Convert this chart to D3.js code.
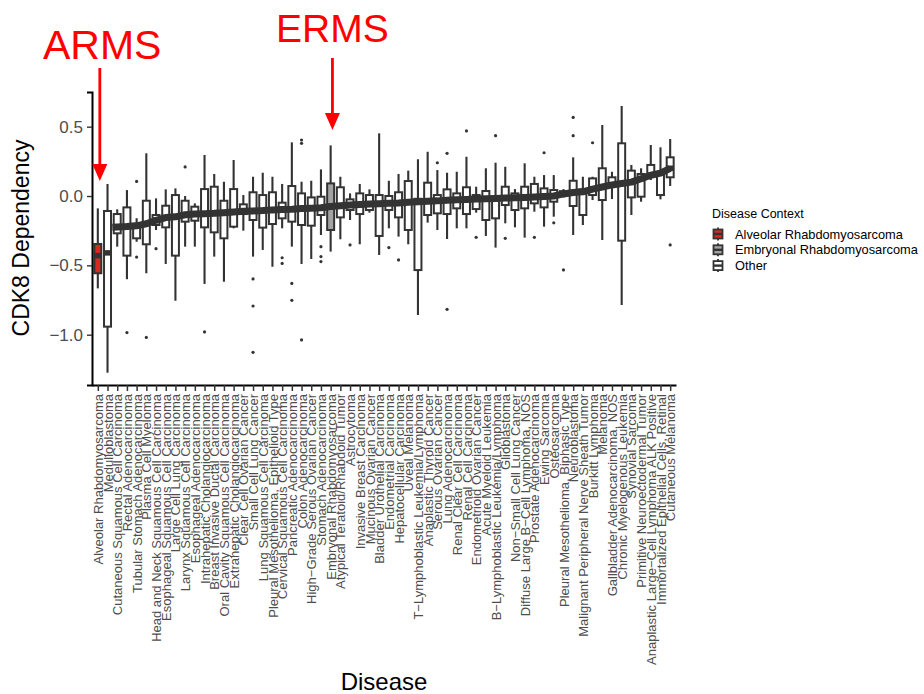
<!DOCTYPE html>
<html>
<head>
<meta charset="utf-8">
<script src="https://cdn.jsdelivr.net/npm/d3@7"></script>
<style>
  body { margin: 0; background: #fff; }
  text { font-family: "Liberation Sans", Arial, sans-serif; }
</style>
</head>
<body>
<svg id="chart" width="924" height="694"></svg>
<script>
// disease categories, in plotting order
const diseases = [
  'Alveolar Rhabdomyosarcoma', 'Medulloblastoma', 'Cutaneous Squamous Cell Carcinoma', 'Rectal Adenocarcinoma',
  'Tubular Stomach Adenocarcinoma', 'Plasma Cell Myeloma', 'Head and Neck Squamous Cell Carcinoma',
  'Esophageal Squamous Cell Carcinoma', 'Large Cell Lung Carcinoma', 'Larynx Squamous Cell Carcinoma',
  'Esophageal Adenocarcinoma', 'Intrahepatic Cholangiocarcinoma', 'Breast Invasive Ductal Carcinoma',
  'Oral Cavity Squamous Cell Carcinoma', 'Extrahepatic Cholangiocarcinoma', 'Clear Cell Ovarian Cancer',
  'Small Cell Lung Cancer', 'Lung Squamous Cell Carcinoma', 'Pleural Mesothelioma, Epithelioid Type',
  'Cervical Squamous Cell Carcinoma', 'Pancreatic Adenocarcinoma', 'Colon Adenocarcinoma',
  'High\u2212Grade Serous Ovarian Cancer', 'Stomach Adenocarcinoma', 'Embryonal Rhabdomyosarcoma',
  'Atypical Teratoid/Rhabdoid Tumor', 'Astrocytoma', 'Invasive Breast Carcinoma', 'Mucinous Ovarian Cancer',
  'Bladder Urothelial Carcinoma', 'Endometrial Carcinoma', 'Hepatocellular Carcinoma', 'Uveal Melanoma',
  'T\u2212Lymphoblastic Leukemia/Lymphoma', 'Anaplastic Thyroid Cancer', 'Serous Ovarian Cancer',
  'Lung Adenocarcinoma', 'Renal Clear Cell Carcinoma', 'Renal Cell Carcinoma', 'Endometrioid Ovarian Cancer',
  'Acute Myeloid Leukemia', 'B\u2212Lymphoblastic Leukemia/Lymphoma', 'Glioblastoma',
  'Non\u2212Small Cell Lung Cancer', 'Diffuse Large B\u2212Cell Lymphoma, NOS', 'Prostate Adenocarcinoma',
  'Ewing Sarcoma', 'Osteosarcoma', 'Pleural Mesothelioma, Biphasic Type', 'Neuroblastoma',
  'Malignant Peripheral Nerve Sheath Tumor', 'Burkitt Lymphoma', 'Melanoma', 'Gallbladder Adenocarcinoma, NOS',
  'Chronic Myelogenous Leukemia', 'Synovial Sarcoma', 'Primitive Neuroectodermal Tumor',
  'Anaplastic Large\u2212Cell Lymphoma ALK Positive', 'Immortalized Epithelial Cells, Retinal', 'Cutaneous Melanoma'
];

// box statistics per disease (CDK8 dependency)
const whiskerLow = [-0.666, -1.274, -0.365, -0.60, -0.33, -0.557, -0.245, -0.49, -0.755, -0.365,
  -0.365, -0.634, -0.437, -0.618, -0.233, -0.25, -0.437, -0.389, -0.51, -0.233,
  -0.365, -0.49, -0.454, -0.281, -0.401, -0.312, -0.173, -0.348, -0.12, -0.425,
  -0.233, -0.293, -0.348, -0.858, -0.192, -0.245, -0.31, -0.233, -0.233, -0.12,
  -0.288, -0.372, -0.197, -0.226, -0.3, -0.113, -0.221, -0.149, -0.01, -0.281,
  -0.209, -0.029, -0.317, -0.022, -0.786, -0.137, -0.041, 0.115, -0.024, 0.072];
const lowerQuartile = [-0.557, -0.942, -0.269, -0.43, -0.305, -0.348, -0.209, -0.226, -0.43, -0.185,
  -0.178, -0.226, -0.262, -0.305, -0.221, -0.13, -0.173, -0.228, -0.202, -0.161,
  -0.185, -0.209, -0.214, -0.137, -0.245, -0.154, -0.101, -0.13, -0.101, -0.288,
  -0.101, -0.154, -0.245, -0.534, -0.137, -0.125, -0.13, -0.089, -0.13, -0.094,
  -0.173, -0.161, -0.065, -0.101, -0.089, -0.053, -0.082, -0.041, 0.005, -0.072,
  -0.137, 0.007, -0.029, 0.087, -0.322, -0.01, -0.005, 0.144, 0.007, 0.135];
const medians = [-0.43, -0.41, -0.225, -0.22, -0.215, -0.2, -0.175, -0.155, -0.15, -0.135,
  -0.13, -0.128, -0.125, -0.12, -0.115, -0.11, -0.108, -0.105, -0.1, -0.098,
  -0.095, -0.09, -0.088, -0.085, -0.075, -0.07, -0.065, -0.062, -0.058, -0.055,
  -0.052, -0.05, -0.045, -0.042, -0.038, -0.035, -0.03, -0.027, -0.025, -0.022,
  -0.02, -0.018, -0.015, -0.012, -0.01, -0.007, -0.004, 0.0, 0.015, 0.025,
  0.03, 0.05, 0.065, 0.08, 0.09, 0.1, 0.125, 0.15, 0.165, 0.2];
const upperQuartile = [-0.346, -0.108, -0.13, -0.082, -0.2, -0.034, -0.137, -0.07, 0.007, -0.034,
  -0.077, 0.05, 0.067, -0.034, 0.05, -0.06, 0.027, 0.007, 0.027, -0.048,
  0.072, 0.019, -0.01, -0.005, 0.091, 0.063, -0.024, 0.019, 0.007, 0.007,
  0.0, 0.027, 0.108, -0.02, 0.096, 0.007, 0.048, 0.019, 0.063, 0.007,
  0.036, -0.005, 0.067, 0.019, 0.067, 0.087, 0.055, 0.043, 0.035, 0.11,
  0.048, 0.127, 0.2, 0.135, 0.38, 0.183, 0.159, 0.224, 0.17, 0.279];
const whiskerHigh = [-0.089, 0.087, -0.096, 0.043, -0.16, 0.308, -0.017, 0.048, 0.055, 0.0,
  -0.053, 0.296, 0.159, 0.103, 0.26, 0.007, 0.139, 0.168, 0.139, 0.087,
  0.387, 0.103, 0.11, 0.192, 0.365, 0.139, 0.019, 0.087, 0.048, 0.452,
  0.11, 0.159, 0.183, 0.265, 0.319, 0.187, 0.168, 0.175, 0.283, 0.067,
  0.2, 0.24, 0.211, 0.05, 0.236, 0.139, 0.151, 0.151, 0.05, 0.279,
  0.139, 0.139, 0.512, 0.175, 0.649, 0.224, 0.2, 0.368, 0.351, 0.411];

// outlying cell lines: disease index and value
const outlierIndex = [3, 4, 4, 5, 6, 9, 11, 16, 16, 16, 19, 19, 20, 20, 21, 21, 21, 23, 23, 23,
  26, 30, 31, 35, 36, 36, 38, 39, 41, 42, 45, 46, 47, 48, 49, 49, 51, 59];
const outlierValue = [-0.985, 0.105, -0.44, -1.02, -0.38, 0.21, -0.98, -0.598, -0.793, -1.127,
  -0.445, -0.486, -0.63, -0.752, 0.404, 0.38, -1.038, -0.365, -0.437, -0.473,
  -0.353, -0.372, -0.461, 0.24, 0.308, -0.817, 0.469, -0.298, 0.435, -0.305,
  -0.298, 0.312, -0.193, -0.533, 0.567, 0.435, 0.384, -0.353];

const contexts = ['Alveolar Rhabdomyosarcoma', 'Embryonal Rhabdomyosarcoma', 'Other'];
const contextColors = ['#d42a20', '#a3a3a3', '#ffffff'];
const yTicks = [-1.0, -0.5, 0.0, 0.5];

const ink = '#333333';
const svg = d3.select('#chart');

/** scales */
const x = d3.scalePoint().domain(diseases).range([92, 676]).padding(0.6);
const y = d3.scaleLinear().domain([-1.3627, 0.75]).range([385, 92]);
const fill = d3.scaleOrdinal(contexts, contextColors);
const contextOf = name => contexts.includes(name) ? name : 'Other';
const boxW = x.step() * 0.72;

const rows = diseases.map((d, i) => ({
  name: d,
  lo: whiskerLow[i], q1: lowerQuartile[i], med: medians[i], q3: upperQuartile[i], hi: whiskerHigh[i]
}));

/** whiskers */
const plot = svg.append('g');
plot.selectAll('line.whi')
  .data(rows)
  .enter().append('line')
  .attr('class', 'whi')
  .attr('x1', d => x(d.name)).attr('x2', d => x(d.name))
  .attr('y1', d => y(d.hi)).attr('y2', d => y(d.q3))
  .attr('stroke', ink).attr('stroke-width', 2.1);
plot.selectAll('line.wlo')
  .data(rows)
  .enter().append('line')
  .attr('class', 'wlo')
  .attr('x1', d => x(d.name)).attr('x2', d => x(d.name))
  .attr('y1', d => y(d.q1)).attr('y2', d => y(d.lo))
  .attr('stroke', ink).attr('stroke-width', 2.1);

/** boxes */
plot.selectAll('rect.box')
  .data(rows)
  .enter().append('rect')
  .attr('class', 'box')
  .attr('x', d => x(d.name) - boxW / 2)
  .attr('width', boxW)
  .attr('y', d => y(d.q3))
  .attr('height', d => Math.max(1, y(d.q1) - y(d.q3)))
  .attr('fill', d => fill(contextOf(d.name)))
  .attr('stroke', ink)
  .attr('stroke-width', 2);

/** median bars */
plot.selectAll('line.med')
  .data(rows)
  .enter().append('line')
  .attr('class', 'med')
  .attr('x1', d => x(d.name) - boxW / 2).attr('x2', d => x(d.name) + boxW / 2)
  .attr('y1', d => y(d.med)).attr('y2', d => y(d.med))
  .attr('stroke', ink).attr('stroke-width', 5.5);

/** thick band joining the medians of the ranked diseases */
const band = rows.slice(2);
plot.append('path')
  .datum(band)
  .attr('fill', 'none')
  .attr('stroke', ink)
  .attr('stroke-width', 7)
  .attr('stroke-linejoin', 'round')
  .attr('d', d3.line()
    .x((d, i) => i === 0 ? x(d.name) - x.step() / 2 : x(d.name))
    .y(d => y(d.med)));

/** outliers */
plot.selectAll('circle.out')
  .data(outlierIndex.map((k, i) => ({name: diseases[k], v: outlierValue[i]})))
  .enter().append('circle')
  .attr('class', 'out')
  .attr('cx', d => x(d.name))
  .attr('cy', d => y(d.v))
  .attr('r', 1.6)
  .attr('fill', ink);

/** axes */
const yAxis = svg.append('g').attr('transform', 'translate(92,0)')
  .call(d3.axisLeft(y).tickValues(yTicks).tickFormat(d3.format('.1f')).tickSize(5).tickPadding(4));
yAxis.select('.domain').attr('stroke', '#000').attr('stroke-width', 2);
yAxis.selectAll('.tick line').attr('stroke', ink).attr('stroke-width', 1.4);
yAxis.selectAll('.tick text').attr('fill', '#4d4d4d').attr('font-size', 17)
  .attr('font-family', '"Liberation Sans", Arial, sans-serif');

const xAxis = svg.append('g').attr('transform', 'translate(0,385)')
  .call(d3.axisBottom(x).tickSize(6).tickSizeOuter(0));
xAxis.select('.domain').attr('stroke', '#000').attr('stroke-width', 2);
xAxis.selectAll('.tick line').attr('stroke', ink).attr('stroke-width', 1.5);
xAxis.selectAll('.tick text')
  .attr('fill', '#4d4d4d')
  .attr('font-size', 13)
  .attr('font-family', '"Liberation Sans", Arial, sans-serif')
  .attr('text-anchor', 'end')
  .attr('transform', 'rotate(-90)')
  .attr('x', -9)
  .attr('y', 0)
  .attr('dy', '0.35em');

svg.append('text')
  .attr('x', 384).attr('y', 690)
  .attr('text-anchor', 'middle')
  .attr('font-size', 24)
  .text('Disease');

svg.append('text')
  .attr('transform', 'translate(29,238) rotate(-90)')
  .attr('text-anchor', 'middle')
  .attr('font-size', 23)
  .text('CDK8 Dependency');

/** legend */
const legend = svg.append('g').attr('transform', 'translate(712,0)');
legend.append('text')
  .attr('x', 0).attr('y', 218)
  .attr('font-size', 12.5)
  .text('Disease Context');
const keys = legend.selectAll('g.key')
  .data(contexts)
  .enter().append('g')
  .attr('class', 'key')
  .attr('transform', (d, i) => `translate(0,${234 + i * 15.8})`);
keys.append('line')
  .attr('x1', 6).attr('x2', 6).attr('y1', -6.5).attr('y2', 6.5)
  .attr('stroke', ink).attr('stroke-width', 1.8);
keys.append('rect')
  .attr('x', 1.5).attr('y', -4.5).attr('width', 9).attr('height', 9)
  .attr('fill', d => fill(d))
  .attr('stroke', ink).attr('stroke-width', 1.8);
keys.append('line')
  .attr('x1', 1.5).attr('x2', 10.5).attr('y1', 0).attr('y2', 0)
  .attr('stroke', ink).attr('stroke-width', 2.4);
keys.append('text')
  .attr('x', 23).attr('y', 4.5)
  .attr('font-size', 12.8)
  .text(d => d);

/** annotations */
const note = svg.append('g');
const arrow = (cx, top, headTop, tip) => {
  note.append('rect')
    .attr('x', cx - 1.4).attr('y', top).attr('width', 2.8).attr('height', headTop - top + 1)
    .attr('fill', '#ff0000');
  note.append('path')
    .attr('d', `M${cx - 7.5},${headTop} L${cx + 7.5},${headTop} L${cx},${tip} Z`)
    .attr('fill', '#ff0000');
};
const armsX = x(diseases[0]) + 2;
const ermsX = x('Embryonal Rhabdomyosarcoma') + 1.8;
arrow(armsX, 68, 164, 181);
arrow(ermsX, 58, 113, 130);

note.append('text')
  .attr('x', 43).attr('y', 59)
  .attr('font-size', 41)
  .attr('fill', '#ff0000')
  .text('ARMS');
note.append('text')
  .attr('x', 276).attr('y', 42)
  .attr('font-size', 39)
  .attr('fill', '#ff0000')
  .text('ERMS');
</script>
</body>
</html>
